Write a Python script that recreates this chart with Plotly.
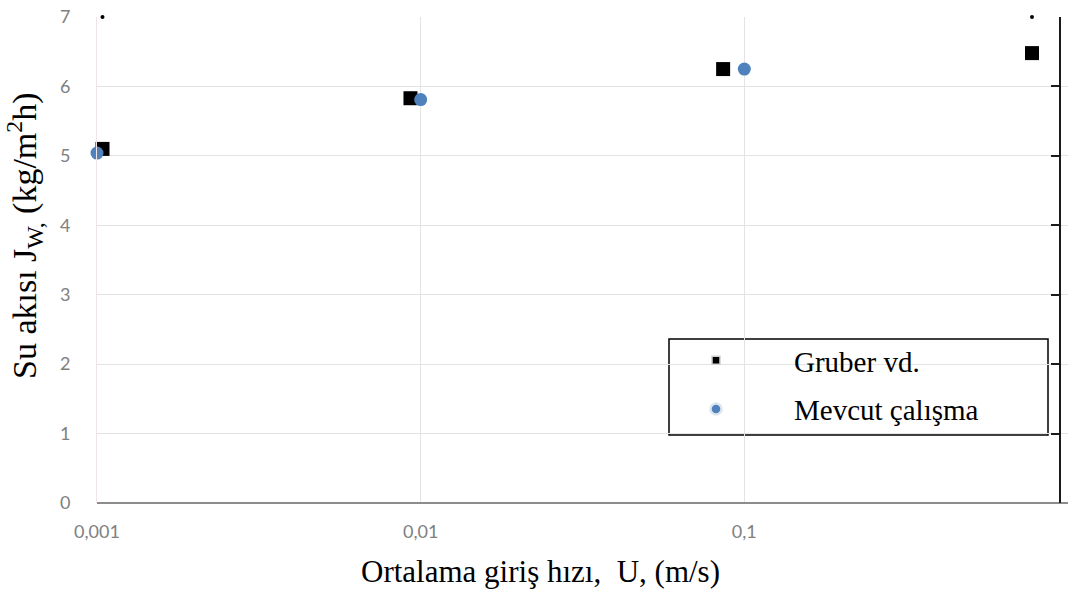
import plotly.graph_objects as go

# Water flux vs. mean inlet velocity
gruber_u = [0.00104, 0.0093, 0.086, 0.774]
gruber_jw = [5.10, 5.83, 6.25, 6.48]

mevcut_u = [0.001, 0.01, 0.1]
mevcut_jw = [5.04, 5.81, 6.25]

# small marks along the top edge
top_u = [0.00104, 0.774]
top_jw = [7.0, 7.0]

x_ticks = [0.001, 0.01, 0.1, 1]
x_tick_text = ["0,001", "0,01", "0,1", "1"]
y_ticks = [0, 1, 2, 3, 4, 5, 6, 7]

x_title = "Ortalama giriş hızı,  U, (m/s)"
y_title = "Su akısı J<sub>W,</sub> (kg/m<sup>2</sup>h)"

serif = "Liberation Serif"
tick_font = dict(family="Lato", size=18, color="#808080")
NB = "\u00a0"

# plot area in pixels (used to place the legend frame and titles)
L, R, T, B = 97, 4, 17, 92
W, H = 1072, 595
PW, PH = W - L - R, H - T - B


def px_x(p):
    return (p - L) / PW


def px_y(p):
    return (H - B - p) / PH


fig = go.Figure()

fig.add_trace(go.Scatter(
    x=gruber_u, y=gruber_jw, mode="markers", showlegend=False,
    marker=dict(symbol="square", size=14, color="black"), cliponaxis=False,
))
fig.add_trace(go.Scatter(
    x=mevcut_u, y=mevcut_jw, mode="markers", showlegend=False,
    marker=dict(symbol="circle", size=13, color="#4F81BD"), cliponaxis=False,
))
fig.add_trace(go.Scatter(
    x=top_u, y=top_jw, mode="markers", showlegend=False,
    marker=dict(symbol="circle", size=4, color="black"), cliponaxis=False,
))

# legend-only entries with smaller symbols
fig.add_trace(go.Scatter(
    x=[None], y=[None], mode="markers", legendgroup="a",
    name=NB * 8 + "Gruber vd.",
    marker=dict(symbol="square", size=8, color="black",
                line=dict(color="#cfcfcf", width=1.5)),
))
fig.add_trace(go.Scatter(
    x=[None], y=[None], mode="markers", legendgroup="b",
    name=NB * 8 + "Mevcut çalışma",
    marker=dict(symbol="circle", size=11, color="#4F81BD",
                line=dict(color="#dde5ee", width=2.5)),
))

# black frame line on the right with inward ticks
fig.add_trace(go.Scatter(x=[None], y=[None], yaxis="y2", showlegend=False))

fig.update_layout(
    width=W, height=H,
    margin=dict(l=L, r=R, t=T, b=B),
    paper_bgcolor="white", plot_bgcolor="white",
    separators=",.",
    xaxis=dict(
        type="log", range=[-3, 0],
        tickvals=x_ticks, ticktext=x_tick_text, tickfont=tick_font,
        showgrid=True, gridcolor="#e3e3e3", gridwidth=1,
        showline=False, zeroline=False, ticks="",
        ticklabelstandoff=16,
    ),
    yaxis=dict(
        range=[0, 7], tickvals=y_ticks, tickfont=tick_font,
        showgrid=True, gridcolor="#e3e3e3", gridwidth=1,
        showline=True, linecolor="#f0e4e4", linewidth=1,
        zeroline=True, zerolinecolor="#8c8c8c", zerolinewidth=2,
        ticks="", ticklabelstandoff=22,
    ),
    yaxis2=dict(
        overlaying="y", side="right", anchor="free", position=0.992,
        range=[0, 7], tickvals=y_ticks, showticklabels=False,
        showgrid=False, zeroline=False,
        showline=True, linecolor="#1a1a1a", linewidth=2,
        ticks="inside", ticklen=8, tickcolor="#1a1a1a", tickwidth=2,
    ),
    legend=dict(
        x=px_x(696), y=px_y(335), xanchor="left", yanchor="top",
        bgcolor="rgba(0,0,0,0)", borderwidth=0,
        font=dict(family=serif, size=29, color="black"),
        tracegroupgap=8, itemsizing="trace",
    ),
    shapes=[dict(
        type="rect", xref="paper", yref="paper",
        x0=px_x(669), x1=px_x(1048), y0=px_y(435), y1=px_y(339),
        line=dict(color="black", width=1.5), fillcolor="white", layer="below",
    )],
    annotations=[
        dict(text=x_title, xref="paper", yref="paper",
             x=px_x(540), y=px_y(571), xanchor="center", yanchor="middle",
             showarrow=False, font=dict(family=serif, size=31, color="black")),
        dict(text=y_title, xref="paper", yref="paper", textangle=-90,
             x=px_x(24), y=px_y(236), xanchor="center", yanchor="middle",
             showarrow=False, font=dict(family=serif, size=34, color="black")),
    ],
)

fig.write_html("out.html")
